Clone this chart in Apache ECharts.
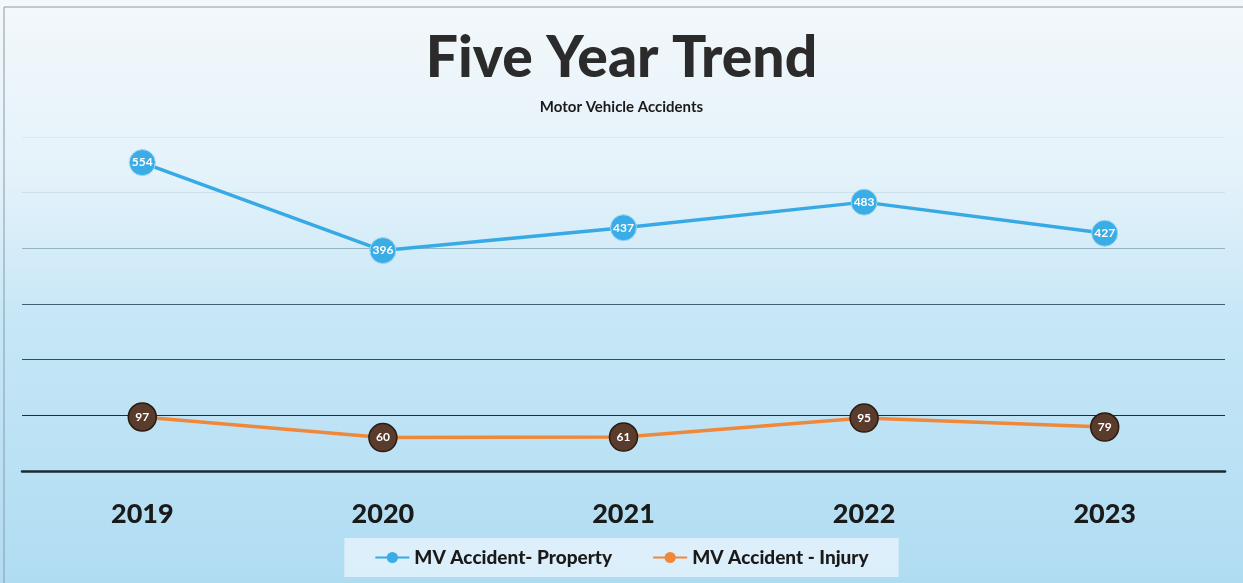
<!DOCTYPE html>
<html><head><meta charset="utf-8">
<script src="https://cdn.jsdelivr.net/npm/echarts@6/dist/echarts.min.js"></script>
<style>html,body{margin:0;padding:0;}#c{width:1243px;height:583px;}</style>
</head><body><div id="c"></div>
<script>
const years = ['2019','2020','2021','2022','2023'];
const propertyAccidents = [554, 396, 437, 483, 427];
const injuryAccidents = [97, 60, 61, 95, 79];
const seriesNames = ['MV Accident- Property', 'MV Accident - Injury'];

const chart = echarts.init(document.getElementById('c'));
chart.setOption({
  backgroundColor: {type:'linear', x:0, y:0, x2:0, y2:1, colorStops:[
    {offset:0, color:'#f3f8fb'}, {offset:0.3, color:'#e4f2fa'}, {offset:0.55, color:'#c6e7f7'}, {offset:1, color:'#b0dcf2'}]},
  title: {
    text: 'Five Year Trend', subtext: 'Motor Vehicle Accidents', left: 'center', top: 25, itemGap: 13,
    textStyle: {fontFamily: 'Lato', fontWeight: 900, fontSize: 57, color: '#2b2b2b'},
    subtextStyle: {fontFamily: 'Lato', fontWeight: 'bold', fontSize: 15, color: '#1a1a1a'}
  },
  legend: {
    bottom: 6, left: 'center', itemGap: 40, itemWidth: 34, itemHeight: 14,
    backgroundColor: 'rgba(230,244,251,0.8)', padding: [10, 30],
    textStyle: {fontFamily: 'Lato', fontWeight: 900, fontSize: 19, color: '#1a1a1a'},
    data: [
      {name: seriesNames[0], itemStyle: {color: '#3aace6', borderWidth: 0}},
      {name: seriesNames[1], itemStyle: {color: '#f0883a', borderWidth: 0}}
    ]
  },
  grid: {left: 22, right: 18, top: 137, bottom: 112},
  xAxis: {
    type: 'category', data: years, boundaryGap: true,
    axisLine: {lineStyle: {color: '#1a2a33', width: 2.5}},
    axisTick: {show: false},
    axisLabel: {fontFamily: 'Lato', fontWeight: 900, fontSize: 27, color: '#1a1a1a', margin: 30}
  },
  yAxis: {
    type: 'value', min: 0, max: 600, interval: 100,
    axisLabel: {show: false}, axisLine: {show: false}, axisTick: {show: false},
    splitLine: {lineStyle: {color: ['rgba(0,0,0,0)', '#1f2f38', '#2e4e5e', '#3e6070', 'rgba(70,110,130,0.45)', 'rgba(120,150,170,0.18)', 'rgba(120,150,170,0.12)'], width: 1.2}}
  },
  series: [
    {
      name: seriesNames[0], type: 'line', data: propertyAccidents,
      symbol: 'circle', symbolSize: 26,
      lineStyle: {color: '#37a9e4', width: 3.5},
      itemStyle: {color: '#3aace6', borderColor: '#9ed6f2', borderWidth: 1},
      label: {show: true, position: 'inside', color: '#ffffff', fontFamily: 'Lato', fontWeight: 'bold', fontSize: 12}
    },
    {
      name: seriesNames[1], type: 'line', data: injuryAccidents,
      symbol: 'circle', symbolSize: 28,
      lineStyle: {color: '#f0883a', width: 3.5},
      itemStyle: {color: '#5a3c2c', borderColor: '#2a1a12', borderWidth: 1.5},
      label: {show: true, position: 'inside', color: '#ffffff', fontFamily: 'Lato', fontWeight: 'bold', fontSize: 12}
    }
  ],
  graphic: [{type: 'rect', shape: {x: 4, y: 7, width: 1250, height: 600}, style: {fill: 'none', stroke: '#8a9aa5', lineWidth: 1}, silent: true}]
});
</script></body></html>
